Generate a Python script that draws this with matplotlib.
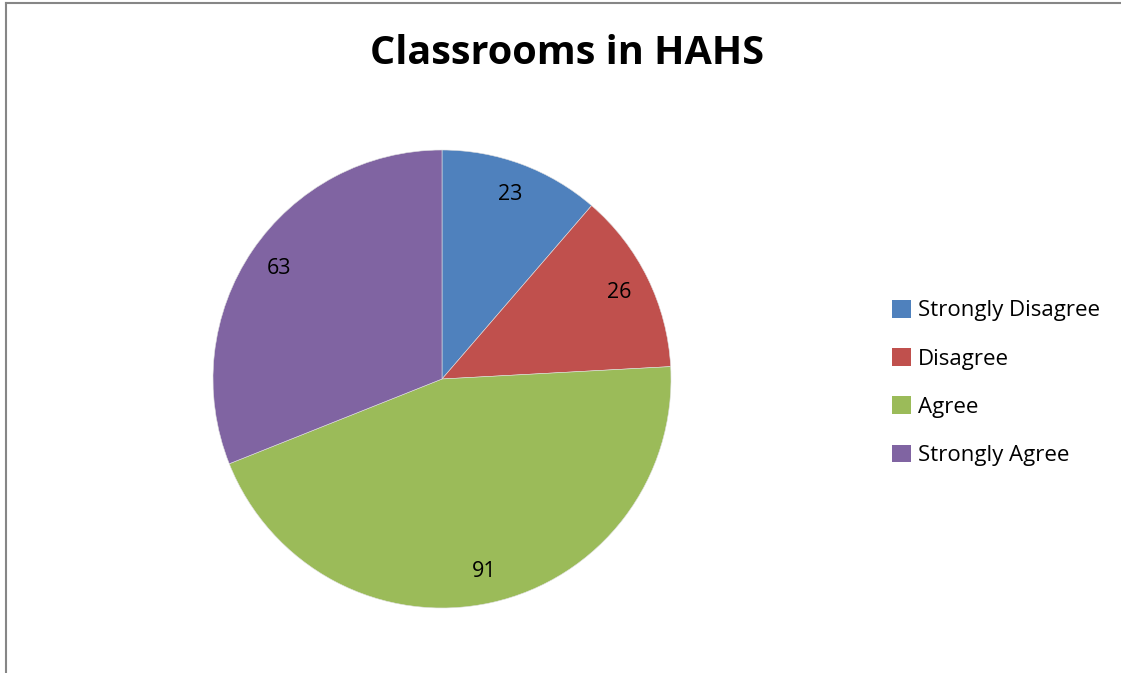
import matplotlib
matplotlib.use('Agg')
import matplotlib.pyplot as plt
from matplotlib.lines import Line2D
from matplotlib.patches import Patch

categories = ['Strongly Disagree', 'Disagree', 'Agree', 'Strongly Agree']
counts = [23, 26, 91, 63]
colors = ['#4F81BD', '#C0504D', '#9BBB59', '#8064A2']
title = 'Classrooms in HAHS'

plt.rcParams['font.family'] = ['Open Sans', 'DejaVu Sans']

W, H = 1121, 673
fig = plt.figure(figsize=(W / 100, H / 100), dpi=100)

# pie centre (442, 379) px, radius 229 px
cx, cy, r = 442, 379, 229
ax = fig.add_axes([(cx - r) / W, 1 - (cy + r) / H, 2 * r / W, 2 * r / H])
wedges, texts = ax.pie(counts, colors=colors, startangle=90, counterclock=False,
                       labels=[str(c) for c in counts], labeldistance=0.86,
                       wedgeprops=dict(linewidth=0.4, edgecolor='#e0e0e0'),
                       textprops=dict(fontsize=15.5, ha='center', va='center'))
ax.set_xlim(-1, 1)
ax.set_ylim(-1, 1)
ax.set_aspect('auto')

fig.text(567 / W, 1 - 54 / H, title, fontsize=28.5, fontweight='bold',
         ha='center', va='center')

handles = [Patch(facecolor=c, edgecolor='none') for c in colors]
fig.legend(handles, categories, loc='center left', bbox_to_anchor=(872 / W, 1 - 383 / H),
           frameon=False, fontsize=16, handlelength=0.85, handleheight=0.85,
           handletextpad=0.3, labelspacing=1.2)

# outer chart border (only left and top visible)
fig.add_artist(Line2D([5.5 / W, 5.5 / W], [0, 1 - 2.5 / H], color='#868686', lw=1.5))
fig.add_artist(Line2D([5.5 / W, 1], [1 - 2.5 / H, 1 - 2.5 / H], color='#868686', lw=1.5))

fig.savefig('out.png', dpi=100)
